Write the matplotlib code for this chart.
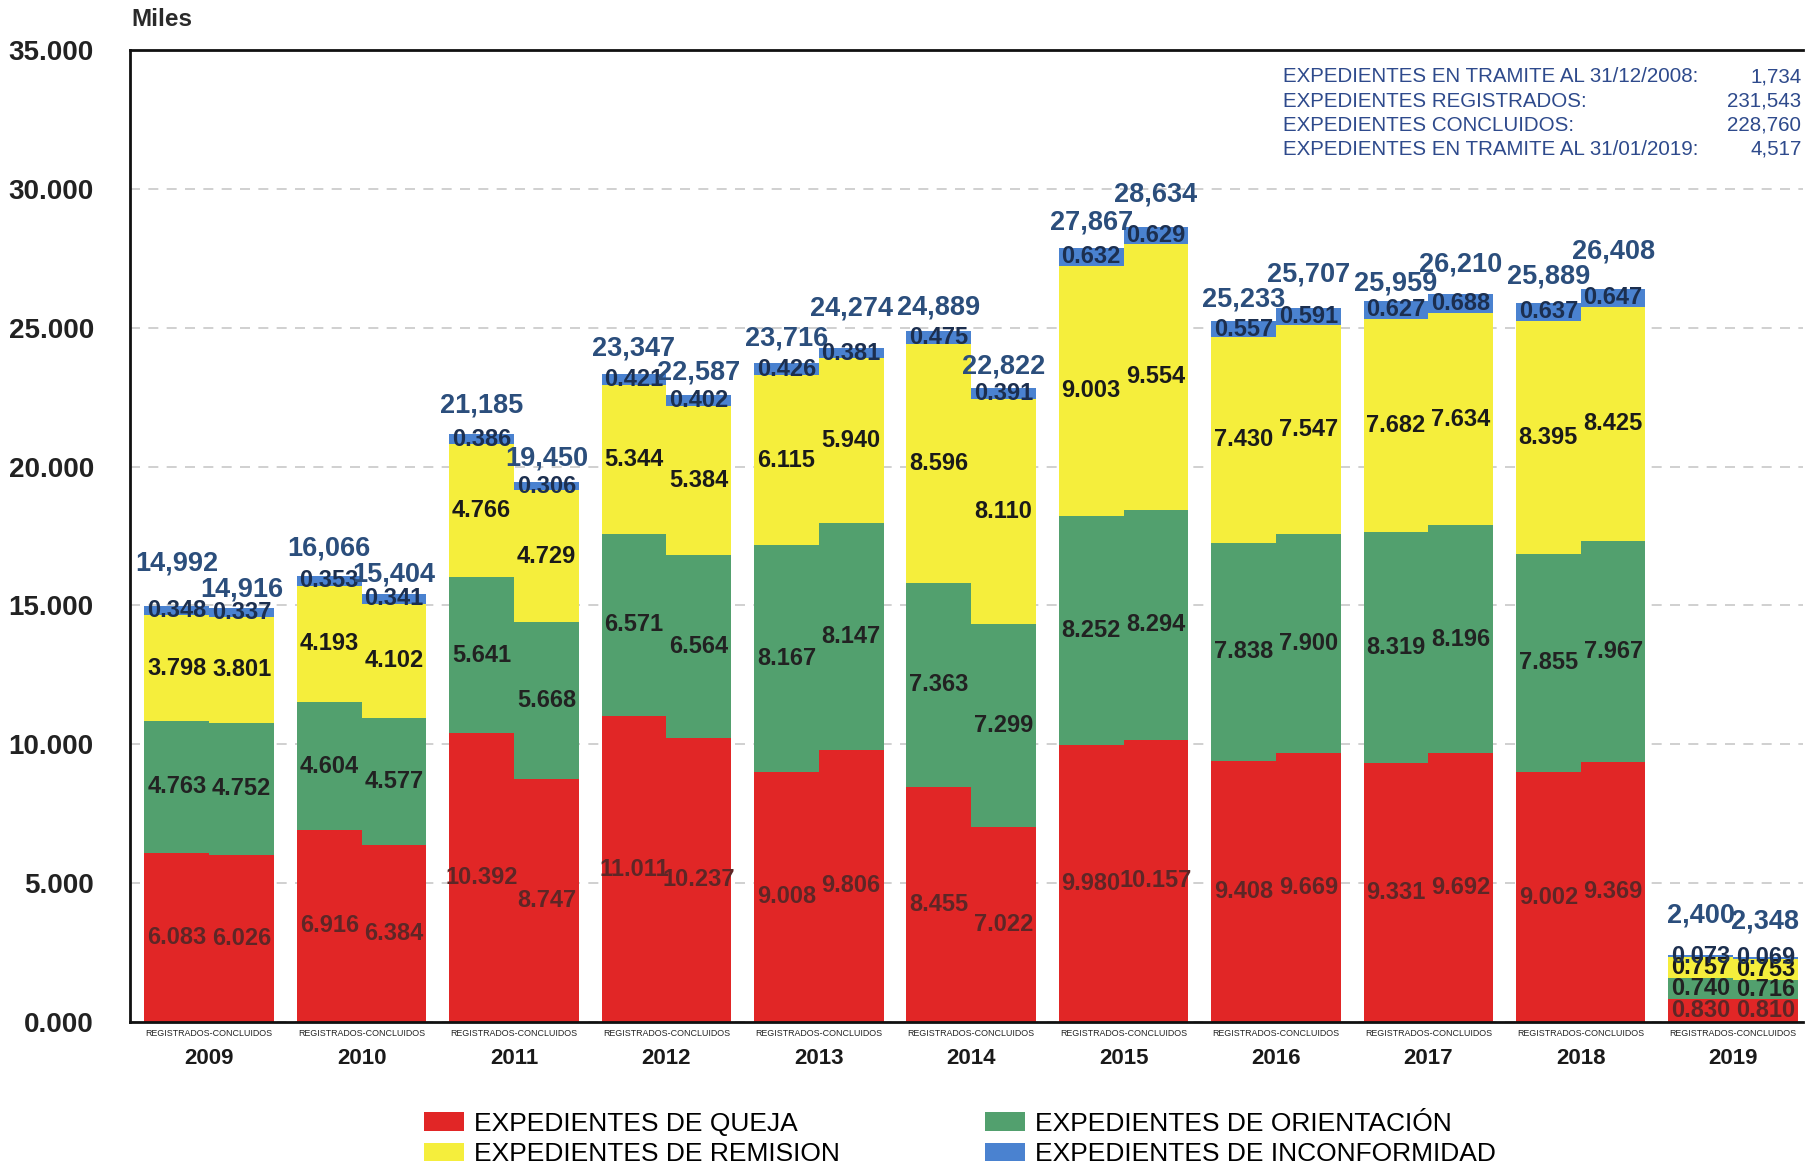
import matplotlib
matplotlib.use("Agg")
import matplotlib.pyplot as plt
from matplotlib.patches import Patch
import numpy as np

plt.rcParams['font.family'] = ['Liberation Sans', 'DejaVu Sans']

# values in thousands (miles)
years = ['2009', '2010', '2011', '2012', '2013', '2014',
         '2015', '2016', '2017', '2018', '2019']

queja_reg = [6.083, 6.916, 10.392, 11.011, 9.008, 8.455, 9.980, 9.408, 9.331, 9.002, 0.830]
queja_con = [6.026, 6.384, 8.747, 10.237, 9.806, 7.022, 10.157, 9.669, 9.692, 9.369, 0.810]
orient_reg = [4.763, 4.604, 5.641, 6.571, 8.167, 7.363, 8.252, 7.838, 8.319, 7.855, 0.740]
orient_con = [4.752, 4.577, 5.668, 6.564, 8.147, 7.299, 8.294, 7.900, 8.196, 7.967, 0.716]
remis_reg = [3.798, 4.193, 4.766, 5.344, 6.115, 8.596, 9.003, 7.430, 7.682, 8.395, 0.757]
remis_con = [3.801, 4.102, 4.729, 5.384, 5.940, 8.110, 9.554, 7.547, 7.634, 8.425, 0.753]
inconf_reg = [0.348, 0.353, 0.386, 0.421, 0.426, 0.475, 0.632, 0.557, 0.627, 0.637, 0.073]
inconf_con = [0.337, 0.341, 0.306, 0.402, 0.381, 0.391, 0.629, 0.591, 0.688, 0.647, 0.069]
total_reg = [14.992, 16.066, 21.185, 23.347, 23.716, 24.889, 27.867, 25.233, 25.959, 25.889, 2.400]
total_con = [14.916, 15.404, 19.450, 22.587, 24.274, 22.822, 28.634, 25.707, 26.210, 26.408, 2.348]

series_names = ['EXPEDIENTES DE QUEJA', 'EXPEDIENTES DE ORIENTACIÓN',
                'EXPEDIENTES DE REMISION', 'EXPEDIENTES DE INCONFORMIDAD']
colors = ['#e12626', '#52a06e', '#f5ee3c', '#4a82d0']
label_colors = ['#5e2626', '#222222', '#1a1a1a', '#1c2f4f']

info_labels = ['EXPEDIENTES EN TRAMITE AL 31/12/2008:', 'EXPEDIENTES REGISTRADOS:',
               'EXPEDIENTES CONCLUIDOS:', 'EXPEDIENTES EN TRAMITE AL 31/01/2019:']
info_values = ['1,734', '231,543', '228,760', '4,517']

# how far each total label sits above its bar (thousands), as placed in the original
lift_reg = [1.53, 1.0, 1.0, 0.91, 0.91, 0.83, 0.91, 0.79, 0.62, 0.95, 1.45]
lift_con = [0.66, 0.70, 0.83, 0.79, 1.41, 0.79, 1.16, 1.20, 1.08, 1.33, 1.28]

fig = plt.figure(figsize=(18.05, 11.64), dpi=100)
ax = fig.add_axes([0.072, 0.122, 0.927, 0.835])

x = np.arange(len(years))
w = 0.425
reg_stack = [queja_reg, orient_reg, remis_reg, inconf_reg]
con_stack = [queja_con, orient_con, remis_con, inconf_con]

for offset, stack, totals, lifts in [(-w / 2, reg_stack, total_reg, lift_reg),
                                     (w / 2, con_stack, total_con, lift_con)]:
    bottom = np.zeros(len(years))
    for i, vals in enumerate(stack):
        vals = np.array(vals)
        ax.bar(x + offset, vals, w, bottom=bottom, color=colors[i], linewidth=0, zorder=2)
        for xi, b, v in zip(x, bottom, vals):
            ax.text(xi + offset, b + v / 2, f"{v:.3f}", ha='center', va='center',
                    fontsize=17, fontweight='bold', color=label_colors[i], zorder=3)
        bottom = bottom + vals
    for xi, t, lf in zip(x, totals, lifts):
        ax.text(xi + offset, t + lf, f"{t:,.3f}".replace('.', ','), ha='center', va='center',
                fontsize=19.5, fontweight='bold', color='#2b4e7c', zorder=3)

ax.set_xlim(-0.52, 10.46)
ax.set_ylim(0, 35)
ax.set_yticks(np.arange(0, 36, 5))
ax.set_yticklabels([f"{v:.3f}" for v in np.arange(0, 36, 5)], fontsize=20,
                   fontweight='bold', color='#222222')
ax.tick_params(axis='y', length=0, pad=26)
ax.yaxis.grid(True, linestyle=(0, (6, 5)), color='#c8c8c8', linewidth=1.2, zorder=0)
ax.set_axisbelow(True)

ax.set_xticks(x)
ax.set_xticklabels([])
ax.tick_params(axis='x', length=0)
for xi, yr in zip(x, years):
    ax.text(xi, -0.25, 'REGISTRADOS-CONCLUIDOS', ha='center', va='top', fontsize=6.4,
            color='#222222', transform=ax.transData)
    ax.text(xi, -0.95, yr, ha='center', va='top', fontsize=16, fontweight='bold',
            color='#1a1a1a', transform=ax.transData)

for s in ['left', 'top', 'bottom']:
    ax.spines[s].set_color('#111111')
    ax.spines[s].set_linewidth(2)
ax.spines['right'].set_visible(False)

fig.text(0.073, 0.983, 'Miles', fontsize=17.5, fontweight='bold', color='#2a2a2a',
         ha='left', va='center')

for k, (lab, val) in enumerate(zip(info_labels, info_values)):
    yy = 0.934 - k * 0.0208
    fig.text(0.711, yy, lab, fontsize=14.8, color='#2e4a8c', ha='left', va='center')
    fig.text(0.998, yy, val, fontsize=14.8, color='#2e4a8c', ha='right', va='center')

handles = [Patch(facecolor=colors[0]), Patch(facecolor=colors[2]),
           Patch(facecolor=colors[1]), Patch(facecolor=colors[3])]
labels = [series_names[0], series_names[2], series_names[1], series_names[3]]
fig.legend(handles, labels, ncol=2, loc='upper left', bbox_to_anchor=(0.235, 0.045),
           frameon=False, fontsize=19, handlelength=1.5, handleheight=0.7,
           handletextpad=0.4, columnspacing=5.5, labelspacing=0.25, borderpad=0,
           borderaxespad=0)

fig.savefig('out.png', dpi=100)
